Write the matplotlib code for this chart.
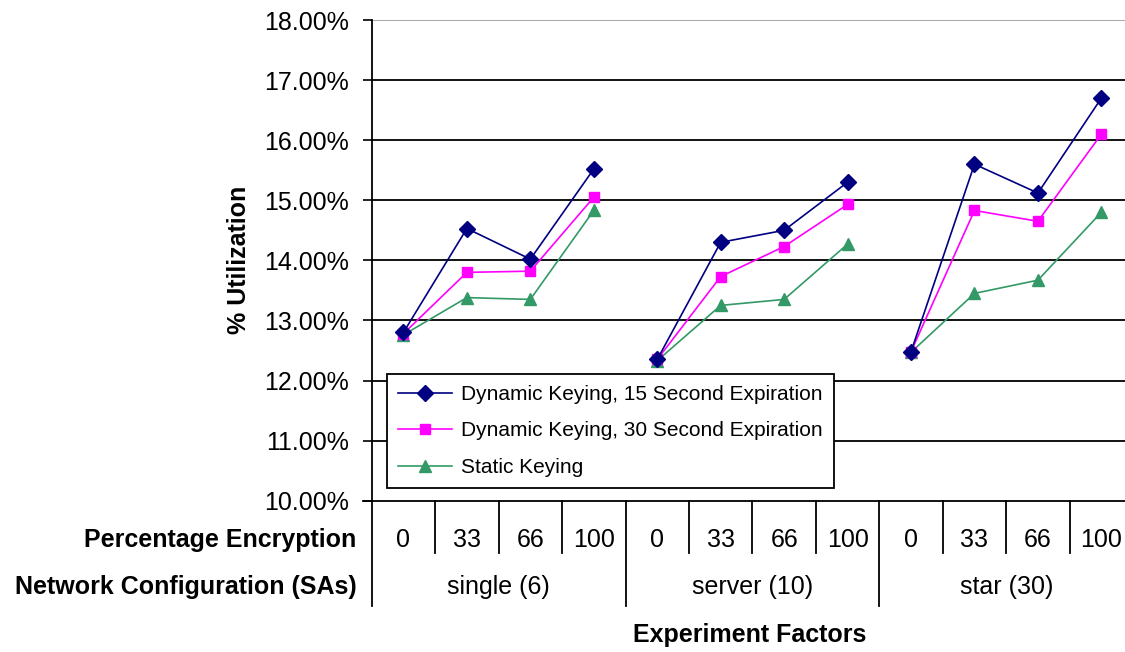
import matplotlib
matplotlib.use("Agg")
import matplotlib.pyplot as plt
from matplotlib.ticker import FuncFormatter

plt.rcParams['font.family'] = ['Liberation Sans', 'DejaVu Sans']

# Experiment factors
encryption_levels = ["0", "33", "66", "100"]
network_configs = ["single (6)", "server (10)", "star (30)"]

# CPU utilization (%) per configuration/encryption level
dynamic_15s = [12.80, 14.53, 14.02, 15.52,
               12.35, 14.30, 14.50, 15.30,
               12.48, 15.60, 15.12, 16.70]
dynamic_30s = [12.78, 13.80, 13.82, 15.05,
               12.35, 13.73, 14.23, 14.93,
               12.48, 14.83, 14.65, 16.10]
static_keying = [12.76, 13.38, 13.35, 14.83,
                 12.33, 13.25, 13.35, 14.27,
                 12.47, 13.45, 13.67, 14.80]

series_labels = ["Dynamic Keying, 15 Second Expiration",
                 "Dynamic Keying, 30 Second Expiration",
                 "Static Keying"]

W, H = 1125, 652
fig = plt.figure(figsize=(W / 100, H / 100), dpi=100)

left_px, bottom_px, top_px = 371.7, 500.7, 20.0
cat_w = 63.45
n_enc = len(encryption_levels)
n_cat = n_enc * len(network_configs)
right_px = left_px + n_cat * cat_w
ax = fig.add_axes([left_px / W, 1 - bottom_px / H,
                   (right_px - left_px) / W, (bottom_px - top_px) / H])

styles = [
    (dynamic_15s, dict(color="#000080", marker="D", markersize=8, zorder=5)),
    (dynamic_30s, dict(color="#FF00FF", marker="s", markersize=7.5, zorder=4)),
    (static_keying, dict(color="#339966", marker="^", markersize=9, zorder=3)),
]
handles = []
for values, st in styles:
    # each network configuration is drawn as its own segment
    for g in range(len(network_configs)):
        xs = list(range(g * n_enc, (g + 1) * n_enc))
        ys = values[g * n_enc:(g + 1) * n_enc]
        line, = ax.plot(xs, ys, lw=1.2, **st)
        if g == 0:
            handles.append(line)

ax.set_xlim(-0.5, n_cat - 0.5)
ax.set_ylim(10, 18)
ax.set_yticks([10, 11, 12, 13, 14, 15, 16, 17, 18])
ax.yaxis.set_major_formatter(FuncFormatter(lambda v, p: f"{v:.2f}%"))
ax.tick_params(axis="y", direction="out", length=6.5, width=1.2,
               labelsize=18, pad=10, colors="black")
ax.set_xticks([])

# horizontal gridlines
for yv in range(11, 18):
    ax.axhline(yv, color="black", lw=1.3, zorder=1)
ax.axhline(18, color="#a0a0a0", lw=1.3, zorder=1)

for s in ["top", "right"]:
    ax.spines[s].set_visible(False)
ax.spines["left"].set_linewidth(1.3)
ax.spines["bottom"].set_linewidth(1.3)
ax.spines["bottom"].set_bounds(-0.5 - 9 / cat_w, n_cat - 0.5)

ax.set_ylabel("% Utilization", fontsize=18, fontweight="bold", labelpad=9)

# category table under the x axis
axis_h = bottom_px - top_px
row1_bottom = -(553 - bottom_px) / axis_h
row2_bottom = -(606 - bottom_px) / axis_h
trans = ax.get_xaxis_transform()
for k in range(n_cat):
    xb = k - 0.5
    yb = row2_bottom if k % n_enc == 0 else row1_bottom
    ax.plot([xb, xb], [0, yb], color="black", lw=1.3, transform=trans,
            clip_on=False)
for k in range(n_cat):
    ax.text(k, -(540 - bottom_px) / axis_h, encryption_levels[k % n_enc],
            transform=trans, ha="center", va="center", fontsize=18)
for g, name in enumerate(network_configs):
    center = g * n_enc + (n_enc - 1) / 2
    ax.text(center, -(587 - bottom_px) / axis_h, name,
            transform=trans, ha="center", va="center", fontsize=18)

fig.text(356 / W, 1 - 540 / H, "Percentage Encryption", ha="right",
         va="center", fontsize=18, fontweight="bold")
fig.text(357 / W, 1 - 587 / H, "Network Configuration (SAs)", ha="right",
         va="center", fontsize=18, fontweight="bold")
fig.text(750 / W, 1 - 635 / H, "Experiment Factors", ha="center",
         va="center", fontsize=18, fontweight="bold")

leg = ax.legend(handles, series_labels, loc="upper left",
                bbox_to_anchor=(387 / W, 1 - 374 / H),
                bbox_transform=fig.transFigure, fontsize=15, frameon=True,
                fancybox=False, framealpha=1, edgecolor="black",
                borderpad=0.52, labelspacing=0.84, handlelength=2.6,
                handletextpad=0.45, borderaxespad=0)
leg.get_frame().set_linewidth(1.3)

fig.savefig("out.png", dpi=100)
